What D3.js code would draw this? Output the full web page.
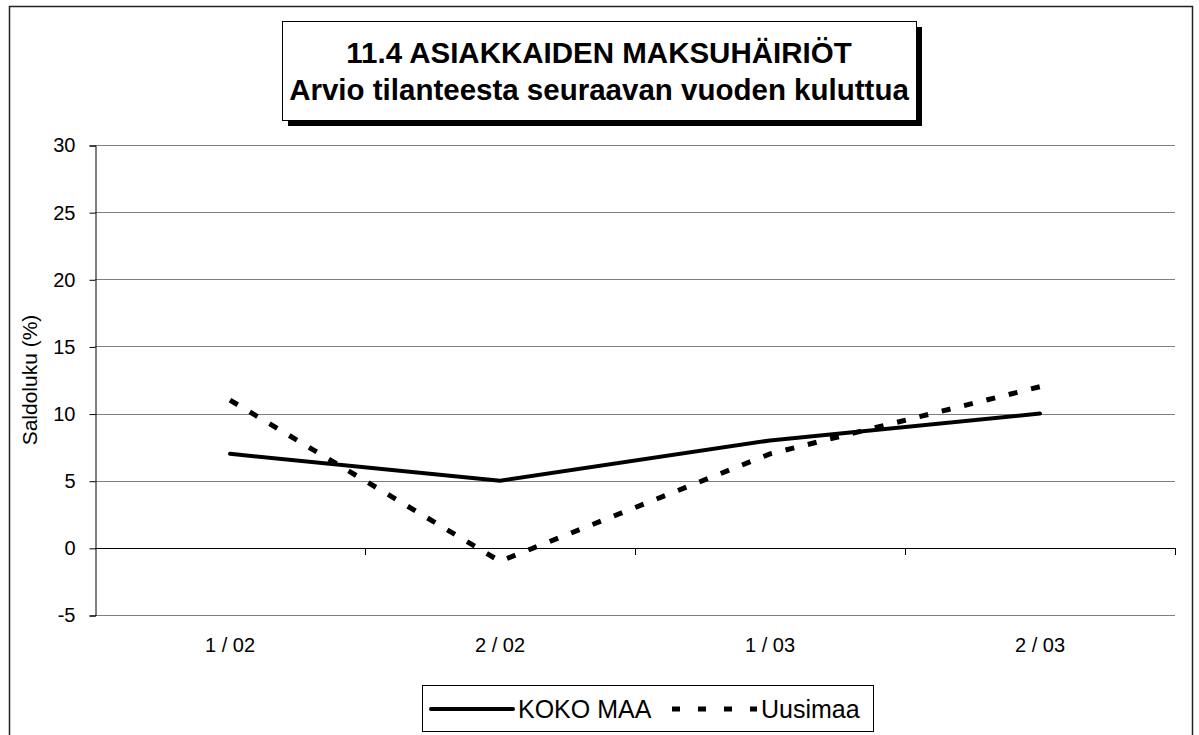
<!DOCTYPE html>
<html>
<head>
<meta charset="utf-8">
<script src="https://cdn.jsdelivr.net/npm/d3@7"></script>
<style>
  body { margin: 0; background: #fff; }
  text { font-family: "Liberation Sans", Arial, sans-serif; }
</style>
</head>
<body>
<svg id="plotCanvas" width="1199" height="735"></svg>
<script>
// data
var categories = ["1 / 02", "2 / 02", "1 / 03", "2 / 03"];
var kokoMaa = [7, 5, 8, 10];
var uusimaa = [11, -1, 7, 12];
var yTicks = [-5, 0, 5, 10, 15, 20, 25, 30];
var titleLines = ["11.4 ASIAKKAIDEN MAKSUHÄIRIÖT", "Arvio tilanteesta seuraavan vuoden kuluttua"];

var canvasWidth = 1199, canvasHeight = 735;
var plot = {left: 95, right: 1175, top: 145, bottom: 615};

var canvas = d3.select("#plotCanvas");

// outer chart border
canvas.append("rect")
    .attr("x", 9.5).attr("y", 6.5)
    .attr("width", 1183).attr("height", 740)
    .attr("fill", "none").attr("stroke", "#222").attr("stroke-width", 1.5);

var x = d3.scaleBand().domain(categories).range([plot.left, plot.right]);
var y = d3.scaleLinear().domain([-5, 30]).range([plot.bottom, plot.top]);

// gridlines
canvas.append("g").selectAll("line")
    .data(yTicks)
    .enter().append("line")
    .attr("x1", plot.left).attr("x2", plot.right)
    .attr("y1", function(d) { return Math.round(y(d)) + 0.5; })
    .attr("y2", function(d) { return Math.round(y(d)) + 0.5; })
    .attr("stroke", "#808080").attr("stroke-width", 1);

// y axis (plain hyphen for negatives, like the original)
var yAxis = canvas.append("g")
    .attr("transform", "translate(" + (plot.left + 0.5) + ",0.5)")
    .call(d3.axisLeft(y).tickValues(yTicks).tickSize(6).tickPadding(14)
        .tickFormat(function(d) { return String(d); }));
yAxis.select(".domain").attr("stroke", "#000");
yAxis.selectAll(".tick line").attr("stroke", "#000");
yAxis.selectAll("text")
    .attr("font-size", "20px").attr("fill", "#000")
    .style("font-family", "Liberation Sans, Arial, sans-serif");

// x axis at zero, ticks between categories
canvas.append("line")
    .attr("x1", plot.left).attr("x2", plot.right)
    .attr("y1", Math.round(y(0)) + 0.5).attr("y2", Math.round(y(0)) + 0.5)
    .attr("stroke", "#000");
var boundaries = categories.map(function(c) { return x(c) + x.bandwidth(); });
canvas.append("g").selectAll("line")
    .data(boundaries)
    .enter().append("line")
    .attr("x1", function(d) { return Math.round(d) + 0.5; })
    .attr("x2", function(d) { return Math.round(d) + 0.5; })
    .attr("y1", Math.round(y(0))).attr("y2", Math.round(y(0)) + 7)
    .attr("stroke", "#000");

// category labels sit below the plot area
canvas.append("g").selectAll("text")
    .data(categories)
    .enter().append("text")
    .attr("x", function(d) { return x(d) + x.bandwidth() / 2; })
    .attr("y", plot.bottom + 37)
    .attr("text-anchor", "middle")
    .attr("font-size", "20px")
    .text(function(d) { return d; });

// y axis title
canvas.append("text")
    .attr("transform", "translate(37," + ((plot.top + plot.bottom) / 2) + ") rotate(-90)")
    .attr("text-anchor", "middle")
    .attr("font-size", "21px")
    .text("Saldoluku (%)");

// series lines
var line = d3.line()
    .x(function(d, i) { return x(categories[i]) + x.bandwidth() / 2; })
    .y(function(d) { return y(d); });

canvas.append("path")
    .datum(kokoMaa)
    .attr("d", line)
    .attr("fill", "none").attr("stroke", "#000")
    .attr("stroke-width", 4).attr("stroke-linejoin", "round").attr("stroke-linecap", "round");

canvas.append("path")
    .datum(uusimaa)
    .attr("d", line)
    .attr("fill", "none").attr("stroke", "#000")
    .attr("stroke-width", 5).attr("stroke-dasharray", "9,14");

// title box with shadow
var tb = {x: 282, y: 21, w: 634, h: 99};
canvas.append("rect")
    .attr("x", tb.x + 6).attr("y", tb.y + 6)
    .attr("width", tb.w).attr("height", tb.h)
    .attr("fill", "#000");
canvas.append("rect")
    .attr("x", tb.x + 0.5).attr("y", tb.y + 0.5)
    .attr("width", tb.w).attr("height", tb.h)
    .attr("fill", "#fff").attr("stroke", "#000").attr("stroke-width", 1);
canvas.append("g").selectAll("text")
    .data(titleLines)
    .enter().append("text")
    .attr("x", tb.x + tb.w / 2)
    .attr("y", function(d, i) { return 63 + i * 37; })
    .attr("text-anchor", "middle")
    .attr("font-size", "29.5px")
    .attr("font-weight", "bold")
    .text(function(d) { return d; });

// legend
var lg = {x: 422, y: 685, w: 451, h: 46};
canvas.append("rect")
    .attr("x", lg.x + 0.5).attr("y", lg.y + 0.5)
    .attr("width", lg.w).attr("height", lg.h)
    .attr("fill", "#fff").attr("stroke", "#000");
var ly = lg.y + lg.h / 2 + 1;
canvas.append("line")
    .attr("x1", 431).attr("x2", 513).attr("y1", ly).attr("y2", ly)
    .attr("stroke", "#000").attr("stroke-width", 4).attr("stroke-linecap", "round");
canvas.append("text")
    .attr("x", 518).attr("y", ly + 9)
    .attr("font-size", "25px")
    .text("KOKO MAA");
canvas.append("line")
    .attr("x1", 672).attr("x2", 757).attr("y1", ly).attr("y2", ly)
    .attr("stroke", "#000").attr("stroke-width", 5).attr("stroke-dasharray", "8,18");
canvas.append("text")
    .attr("x", 761).attr("y", ly + 9)
    .attr("font-size", "25px")
    .text("Uusimaa");
</script>
</body>
</html>
